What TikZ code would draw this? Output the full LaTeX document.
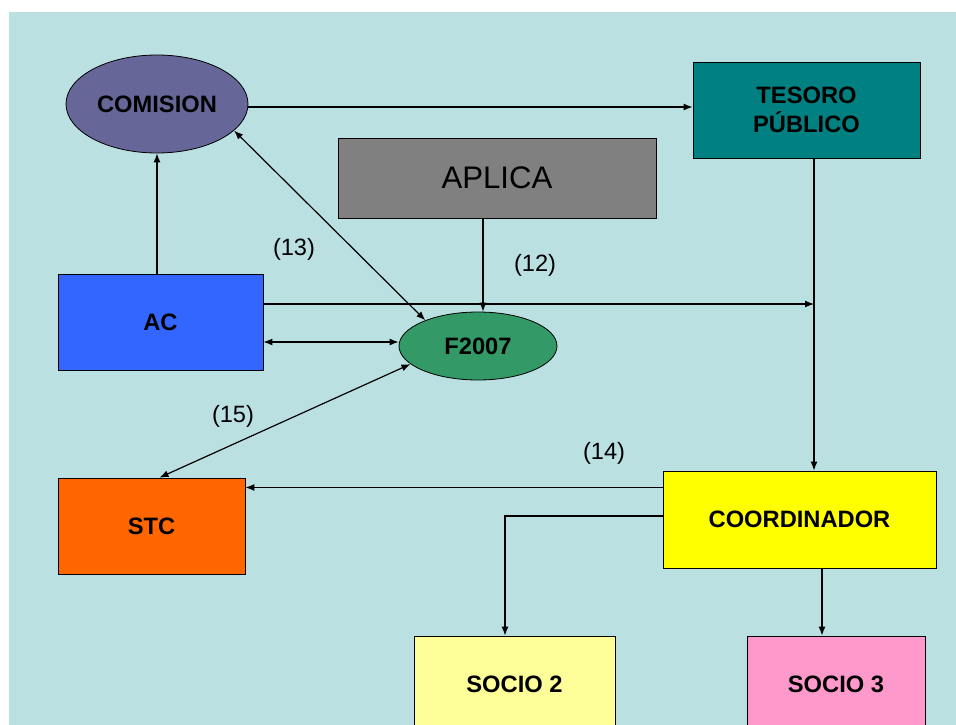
\documentclass[tikz,border=0pt]{standalone}
\usepackage{fontspec}
\setmainfont{Liberation Sans}
\usetikzlibrary{arrows.meta,shapes.geometric}
\definecolor{bgblue}{HTML}{BAE0E2}
\definecolor{cComision}{HTML}{666699}
\definecolor{cTesoro}{HTML}{008080}
\definecolor{cAplica}{HTML}{808080}
\definecolor{cAC}{HTML}{3366FF}
\definecolor{cF}{HTML}{339966}
\definecolor{cSTC}{HTML}{FF6600}
\definecolor{cCoord}{HTML}{FFFF00}
\definecolor{cSocioA}{HTML}{FFFF99}
\definecolor{cSocioB}{HTML}{FF99CC}
\tikzset{
  box/.style={draw=black, line width=0.8pt, inner sep=0pt, align=center,
    font=\fontsize{23.7}{29}\selectfont\bfseries},
  oval/.style={box, ellipse},
  conn/.style={line width=1.2pt, -{Latex[length=9pt,width=7pt]}},
  dconn/.style={line width=1.2pt, {Latex[length=9pt,width=7pt]}-{Latex[length=9pt,width=7pt]}},
  tag/.style={font=\fontsize{23.6}{28}\selectfont}
}
\begin{document}
\begin{tikzpicture}[x=1pt, y=-1pt]
\useasboundingbox (0,0) rectangle (956,725);
\clip (0,0) rectangle (956,725);
\fill[bgblue] (9,12) rectangle (956,725);

% nodes
\node[oval, fill=cComision, minimum width=182pt, minimum height=98pt] (com) at (157,104) {COMISION};
\node[box, fill=cTesoro, minimum width=227pt, minimum height=96pt] (tes) at (806.5,110) {TESORO\\PÚBLICO};
\node[box, fill=cAplica, minimum width=318pt, minimum height=80pt,
      font=\fontsize{31.2}{36}\selectfont] (apl) at (497,178) {APLICA};
\node[box, fill=cAC, minimum width=205pt, minimum height=96pt] (ac) at (160.5,322) {AC};
\node[oval, fill=cF, minimum width=158pt, minimum height=68pt] (f07) at (478,346) {F2007};
\node[box, fill=cSTC, minimum width=187pt, minimum height=96pt] (stc) at (151.5,526) {STC};
\node[box, fill=cCoord, minimum width=273pt, minimum height=97pt] (coo) at (799.5,519.5) {COORDINADOR};
\node[box, fill=cSocioA, minimum width=201pt, minimum height=96pt] (s2) at (514.5,684) {SOCIO 2};
\node[box, fill=cSocioB, minimum width=178pt, minimum height=96pt] (s3) at (836,684) {SOCIO 3};

% junction on the TESORO -> COORDINADOR line
\coordinate (j) at (814,304);

% connectors
\draw[conn] ([yshift=-3pt]com.east) -- ([yshift=-3pt]com.east -| tes.west);
\draw[conn] (com.south |- ac.north) -- (com.south);
\draw[dconn] (com.-19) -- (f07.154);
\draw[conn] ([xshift=5pt]f07.north |- apl.south) -- ([xshift=5pt]f07.north);
\draw[conn] (ac.east |- j) -- (j);
\draw[conn] (tes.south -| j) -- (coo.north -| j);
\draw[dconn] ([yshift=-20pt]ac.east) -- ([yshift=-20pt]ac.east -| f07.west);
\draw[dconn] (f07.195) -- ([xshift=8pt]stc.north);
\draw[conn] ([yshift=32pt]coo.west) -- ([yshift=32pt]coo.west -| stc.east);
\draw[conn] ([yshift=3.5pt]coo.west) -| ([xshift=-9.5pt]s2.north);
\draw[conn] ([xshift=-14pt]s3.north |- coo.south) -- ([xshift=-14pt]s3.north);

% labels
\node[tag] (l13) at (294,249) {(13)};
\node[tag] (l12) at (535,265) {(12)};
\node[tag] (l15) at (233,416) {(15)};
\node[tag] (l14) at (604,453) {(14)};
\end{tikzpicture}
\end{document}
